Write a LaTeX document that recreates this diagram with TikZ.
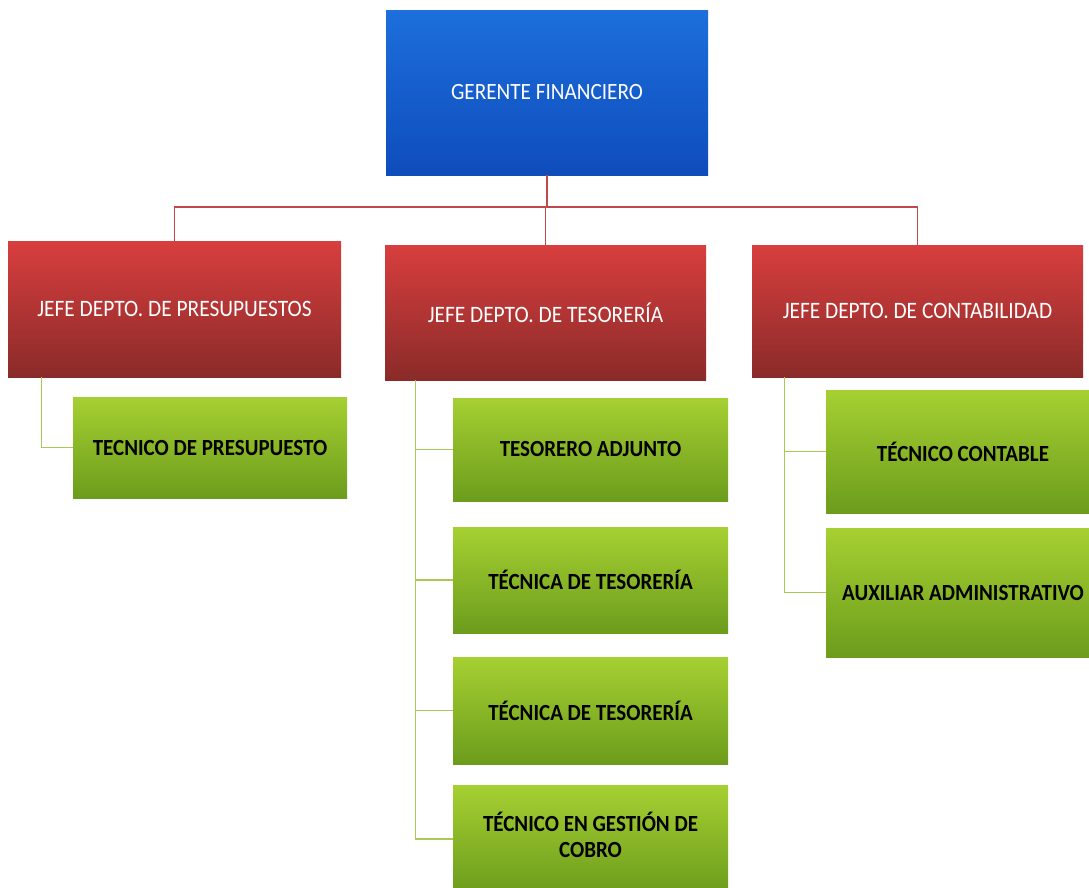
\documentclass[tikz,border=0pt]{standalone}
\usepackage{fontspec}
\setmainfont{Carlito}
\usepackage{graphicx}
\usetikzlibrary{calc}
\definecolor{blueT}{HTML}{1C6FDC}
\definecolor{blueB}{HTML}{0F4CBC}
\definecolor{redT}{HTML}{D83E3E}
\definecolor{redB}{HTML}{8A2B29}
\definecolor{greenT}{HTML}{A6D032}
\definecolor{greenB}{HTML}{6C9C1C}
\definecolor{redLine}{HTML}{C2474B}
\definecolor{greenLine}{HTML}{A9C955}
\newcommand{\vtxt}[1]{\scalebox{1}[1.1]{#1}}
\tikzset{
  boxbase/.style={rectangle, inner sep=0pt, align=center},
  topbox/.style={boxbase, top color=blueT, bottom color=blueB, text=white, font=\fontsize{21.2}{25}\selectfont},
  jefebox/.style={boxbase, top color=redT, bottom color=redB, text=white, font=\fontsize{21.4}{25}\selectfont},
  staffbox/.style={boxbase, top color=greenT, bottom color=greenB, text=black, font=\bfseries\fontsize{21}{25}\selectfont},
  redline/.style={draw=redLine, line width=1.3pt},
  greenline/.style={draw=greenLine, line width=1.3pt}
}
\begin{document}
\begin{tikzpicture}[x=1pt,y=-1pt]
\useasboundingbox[fill=white] (0,0) rectangle (1089,887);
\begin{scope}
\clip (0,0) rectangle (1089,887);
% top
\node[topbox, minimum width=322pt, minimum height=165pt] (ger) at (547,92.5) {\vtxt{GERENTE FINANCIERO}};
% department heads
\node[jefebox, minimum width=333pt, minimum height=136pt] (jp) at (174.5,309) {\vtxt{JEFE DEPTO. DE PRESUPUESTOS}};
\node[jefebox, minimum width=321pt, minimum height=135pt] (jt) at (545.5,312.5) {\vtxt{JEFE DEPTO. DE TESORERÍA}};
\node[jefebox, minimum width=331pt, minimum height=132pt] (jc) at (917.5,311) {\vtxt{JEFE DEPTO. DE CONTABILIDAD}};
% staff
\node[staffbox, minimum width=274pt, minimum height=101pt] (tp) at (210,447.5) {\vtxt{TECNICO DE PRESUPUESTO}};
\node[staffbox, minimum width=275pt, minimum height=103pt] (ta) at (590.5,449.5) {\vtxt{TESORERO ADJUNTO}};
\node[staffbox, minimum width=275pt, minimum height=106pt] (tt1) at (590.5,580) {\vtxt{TÉCNICA DE TESORERÍA}};
\node[staffbox, minimum width=275pt, minimum height=107pt] (tt2) at (590.5,710.5) {\vtxt{TÉCNICA DE TESORERÍA}};
\node[staffbox, minimum width=275pt, minimum height=108pt] (tg) at (590.5,839) {\vtxt{\begin{tabular}{@{}c@{}}TÉCNICO EN GESTIÓN DE\\[-2pt]COBRO\end{tabular}}};
\node[staffbox, minimum width=274pt, minimum height=123pt] (tc) at (963,451.5) {\vtxt{TÉCNICO CONTABLE}};
\node[staffbox, minimum width=274pt, minimum height=129pt] (aa) at (963,592.5) {\vtxt{AUXILIAR ADMINISTRATIVO}};
\end{scope}
% red connectors
\coordinate (bus) at (547,207);
\draw[redline] (ger.south) -- (bus);
\draw[redline] (jp.north) |- (bus) -| (jc.north);
\draw[redline] (jt.north) -- (jt.north |- bus);
% green connectors
\coordinate (px) at ($(jp.south west)+(34,0)$);
\draw[greenline] (px) |- (tp.west);
\coordinate (tx) at ($(jt.south west)+(31,0)$);
\draw[greenline] (tx) |- (tg.west);
\draw[greenline] (tx |- ta.west) -- (ta.west);
\draw[greenline] (tx |- tt1.west) -- (tt1.west);
\draw[greenline] (tx |- tt2.west) -- (tt2.west);
\coordinate (cx) at ($(jc.south west)+(33,0)$);
\draw[greenline] (cx) |- (aa.west);
\draw[greenline] (cx |- tc.west) -- (tc.west);
\end{tikzpicture}
\end{document}
